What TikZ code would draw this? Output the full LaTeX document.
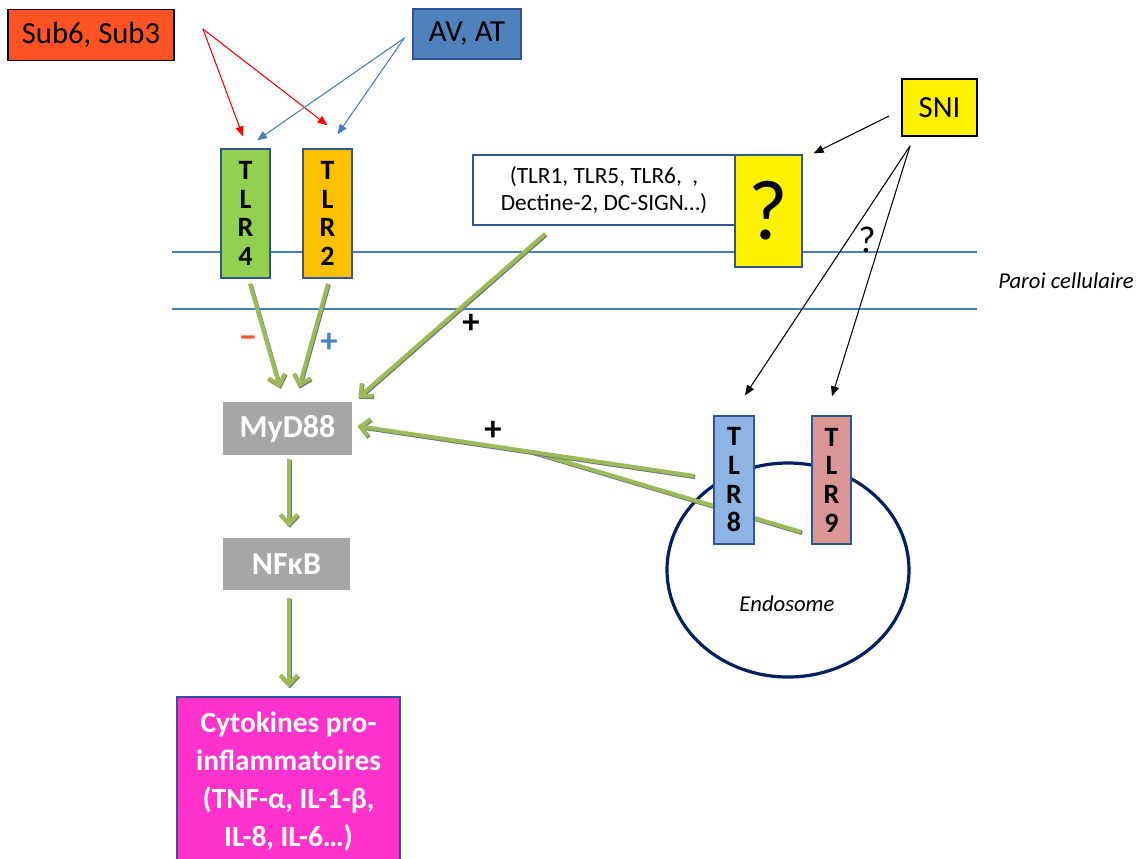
\documentclass[tikz,border=0pt]{standalone}
\usepackage{fontspec}
\setmainfont{Carlito}
\usetikzlibrary{arrows.meta,calc,backgrounds}

\definecolor{cSub}{HTML}{FF5325}
\definecolor{cAv}{HTML}{4F81BD}
\definecolor{cTlrFour}{HTML}{92D050}
\definecolor{cTlrTwo}{HTML}{FFC000}
\definecolor{cTlrEight}{HTML}{8EB4E3}
\definecolor{cTlrNine}{HTML}{D99694}
\definecolor{cEdge}{HTML}{2F5597}
\definecolor{cGray}{HTML}{A6A6A6}
\definecolor{cMagenta}{HTML}{FF33CC}
\definecolor{cGreen}{HTML}{9BBB59}
\definecolor{cMembrane}{HTML}{4A7EBB}
\definecolor{cEndo}{HTML}{002060}

\begin{document}
\begin{tikzpicture}[x=0.75pt,y=-0.75pt,
  box/.style={draw=cEdge, line width=1pt, inner sep=0pt, align=center},
  tlrbox/.style={box, minimum width=36.75pt, minimum height=96.75pt,
    font=\fontsize{21}{21.5}\selectfont\bfseries},
  endobox/.style={box, minimum height=96pt,
    font=\fontsize{21}{21.5}\selectfont\bfseries},
  graybox/.style={draw=none, fill=cGray, inner sep=0pt, text=white,
    font=\fontsize{24}{28}\selectfont\bfseries},
  thin arrow/.style={line width=0.8pt, -{Triangle[length=7.5pt,width=6pt]}},
  garrow/.style={draw=cGreen, line width=3pt,
    -{Straight Barb[length=7pt,width=13pt]},
    preaction={draw=black!55, line width=3pt,
      transform canvas={shift={(0.6pt,-0.8pt)}}}},
  gline/.style={draw=cGreen, line width=3pt,
    preaction={draw=black!55, line width=3pt,
      transform canvas={shift={(0.6pt,-0.8pt)}}}},
  membrane/.style={draw=cMembrane, line width=0.8pt},
  sign/.style={font=\fontsize{26}{28}\selectfont\bfseries, inner sep=0pt},
  note/.style={font=\fontsize{17}{20}\selectfont\itshape, inner sep=0pt}
]
\useasboundingbox (0,0) rectangle (1143,858);
\clip (0,0) rectangle (1143,858);

% --- cell wall ---
\begin{scope}[on background layer]
  \draw[membrane] (172,252) -- (977,252);
  \draw[membrane] (172,309) -- (977,309);
  \draw[draw=cEndo, line width=2.4pt] (788,570) ellipse [x radius=121, y radius=107];
\end{scope}
\node[note] (wall) at (1066,281) {Paroi cellulaire};
\node[note] (endo) at (787,604) {Endosome};

% --- ligands ---
\node[box, draw=black, line width=1.4pt, fill=cSub, minimum width=124.5pt, minimum height=38.25pt,
  font=\fontsize{23}{27}\selectfont] (sub) at (91,35) {Sub6, Sub3};
\node[box, draw=cEdge, line width=1.4pt, fill=cAv, minimum width=81.4pt, minimum height=37.5pt,
  font=\fontsize{23}{27}\selectfont] (av) at (467,34) {AV, AT};
\node[box, draw=black, line width=1.4pt, fill=yellow, minimum width=56.25pt, minimum height=42.75pt,
  font=\fontsize{23}{27}\selectfont] (sni) at (939.5,107.5) {SNI};

% --- membrane receptors ---
\node[tlrbox, fill=cTlrFour] (tlr4) at (245.5,213.5) {T\\L\\R\\4};
\node[tlrbox, fill=cTlrTwo] (tlr2) at (327.5,213.5) {T\\L\\R\\2};
\node[box, fill=white, minimum width=196.5pt, minimum height=52.5pt,
  font=\fontsize{17.5}{20.5}\selectfont] (other) at (604,190)
  {(TLR1, TLR5, TLR6,~~,\\Dectine-2, DC-SIGN…)};
\node[box, fill=yellow, minimum width=50.25pt, minimum height=84pt,
  font=\fontsize{64}{70}\selectfont] (qbox) at (768.5,211) {?};

% --- endosomal receptors ---
\node[endobox, fill=cTlrEight, minimum width=30pt] (tlr8) at (734,480) {T\\L\\R\\8};
\node[endobox, fill=cTlrNine, minimum width=29.25pt] (tlr9) at (831.5,480) {T\\L\\R\\9};

% --- signalling cascade ---
\node[graybox, minimum width=96.75pt, minimum height=39.75pt] (myd) at (287.5,428.5) {MyD88};
\node[graybox, minimum width=95.25pt, minimum height=39pt] (nfkb) at (286.5,564) {NFκB};
\node[box, fill=cMagenta, text=white, minimum width=167.25pt, minimum height=126pt,
  font=\fontsize{22}{28.5}\selectfont\bfseries] (cyto) at (288.5,781)
  {Cytokines pro-\\inflammatoires\\(TNF-α, IL-1-β,\\IL-8, IL-6…)};

% --- ligand arrows ---
\draw[thin arrow, red] ($(sub.east)+(28,-6)$) -- ($(tlr4.north)+(-2.5,-12)$);
\draw[thin arrow, red] ($(sub.east)+(28,-6)$) -- ($(tlr2.north)+(0,-23)$);
\draw[thin arrow, cMembrane] ($(av.west)+(-7.5,4)$) -- ($(tlr4.north)+(11.5,-8)$);
\draw[thin arrow, cMembrane] ($(av.west)+(-7.5,4)$) -- ($(tlr2.north)+(10,-14)$);
\draw[thin arrow, black] ($(sni.west)+(-12,8.5)$) -- ($(qbox.north east)+(11,-1)$);
\draw[thin arrow, black] ($(sni.south)+(-29.5,9)$) -- ($(tlr8.north)+(11,-20)$);
\draw[thin arrow, black] ($(sni.south)+(-29.5,9)$) -- ($(tlr9.north)+(0.5,-19)$);
\node[font=\fontsize{28}{30}\selectfont, inner sep=0pt] (qmark) at (867,240) {?};

% --- signalling arrows ---
\draw[garrow] ($(tlr4.south)+(4.5,5)$) -- ($(myd.north)+(-7.5,-14)$);
\draw[garrow] ($(tlr2.south)+(0.5,5)$) -- ($(myd.north)+(11.5,-14)$);
\draw[garrow] ($(other.south west)+(73,8)$) -- ($(myd.north east)+(6,-4)$);
\coordinate (s8) at ($(tlr8.west)+(-19,-4)$);
\coordinate (e8) at ($(myd.east)+(5,-2.5)$);
\coordinate (join) at ($(s8)!0.48!(e8)$);
\begin{scope}[on background layer]
  \draw[gline] ($(tlr9.west)+(-10,52)$) -- (join);
\end{scope}
\draw[garrow] (s8) -- (e8);
\draw[garrow] ($(myd.south)+(1.5,4)$) -- ($(nfkb.north)+(2.5,-11)$);
\draw[garrow] ($(nfkb.south)+(2.5,8)$) -- ($(cyto.north)+(0.5,-9)$);

% --- signs ---
\node[sign, text=cSub] (minus) at (248,342) {−};
\node[sign, text=cAv] (plusA) at (329,343) {+};
\node[sign] (plusB) at (471,324) {+};
\node[sign] (plusC) at (493,431) {+};
\end{tikzpicture}
\end{document}
